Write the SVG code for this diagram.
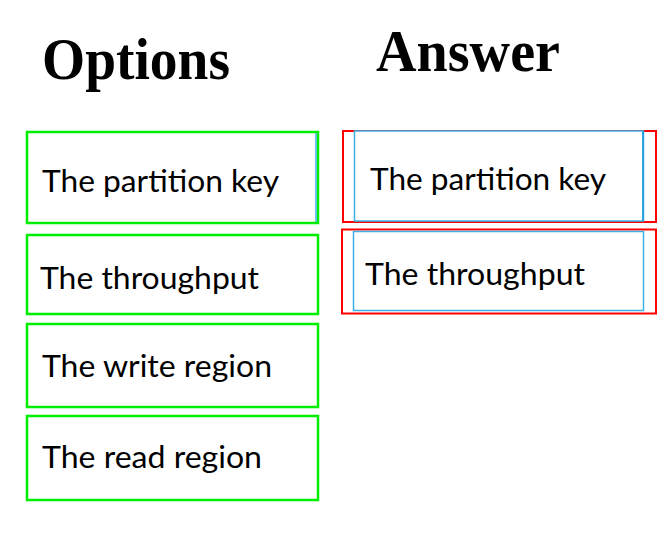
<svg xmlns="http://www.w3.org/2000/svg" width="664" height="536" viewBox="0 0 664 536">
<style>
.hdr{font-family:"Liberation Serif","Times New Roman",serif;font-weight:bold;font-size:60px;fill:#000}
.lbl{font-family:"Lato","Open Sans","Liberation Sans",sans-serif;font-size:31px;fill:#000}
.opt{fill:#fff;stroke:#00ee00;stroke-width:2.5}
.ans{fill:none;stroke:#ff0000;stroke-width:2}
.inner{fill:#fff;stroke:#3fb0e6;stroke-width:1.5}
</style>
<rect width="664" height="536" fill="#fff"/>
<text class="hdr" x="42" y="79" textLength="188" lengthAdjust="spacingAndGlyphs">Options</text>
<text class="hdr" x="376" y="71" textLength="184" lengthAdjust="spacingAndGlyphs">Answer</text>
<g id="opt1">
<rect class="opt" x="27" y="132" width="291" height="91"/>
<line x1="316" y1="133" x2="316" y2="222" stroke="#3fb0e6" stroke-width="1.5"/>
<text class="lbl" x="42" y="192" textLength="237" lengthAdjust="spacingAndGlyphs">The partition key</text>
</g>
<g id="opt2">
<rect class="opt" x="27" y="235" width="291" height="79"/>
<text class="lbl" x="40" y="289" textLength="219" lengthAdjust="spacingAndGlyphs">The throughput</text>
</g>
<g id="opt3">
<rect class="opt" x="27" y="324" width="291" height="83"/>
<text class="lbl" x="42" y="377" textLength="230" lengthAdjust="spacingAndGlyphs">The write region</text>
</g>
<g id="opt4">
<rect class="opt" x="27" y="416" width="291" height="84"/>
<text class="lbl" x="42" y="468" textLength="220" lengthAdjust="spacingAndGlyphs">The read region</text>
</g>
<g id="ans1">
<rect class="ans" x="343" y="131" width="313" height="91"/>
<rect class="inner" x="354.5" y="131" width="289" height="90"/>
<line x1="643" y1="131" x2="643" y2="221" stroke="#29a3dc" stroke-width="2"/>
<text class="lbl" x="370" y="190" textLength="236" lengthAdjust="spacingAndGlyphs">The partition key</text>
</g>
<g id="ans2">
<rect class="ans" x="342" y="229.5" width="314" height="84"/>
<rect class="inner" x="353.5" y="231.5" width="290" height="79" stroke="#8cc6e6" stroke-width="1"/>
<text class="lbl" x="365" y="285" textLength="220" lengthAdjust="spacingAndGlyphs">The throughput</text>
</g>
<g id="connectors"></g>
</svg>
